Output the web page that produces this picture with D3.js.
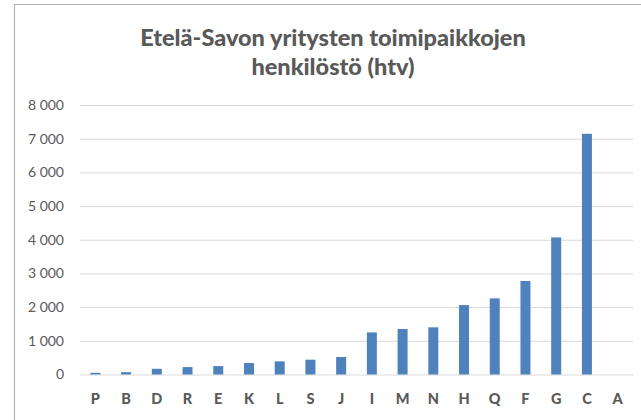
<!DOCTYPE html>
<html>
<head>
<meta charset="utf-8">
<script src="https://cdn.jsdelivr.net/npm/d3@7"></script>
<style>
  html, body { margin: 0; padding: 0; background: #fff; }
  svg { display: block; }
</style>
</head>
<body>
<svg id="chart" width="641" height="420"></svg>
<script>
const categories = ["P","B","D","R","E","K","L","S","J","I","M","N","H","Q","F","G","C","A"];
const values = [50, 70, 170, 220, 250, 340, 390, 440, 520, 1250, 1350, 1400, 2060, 2260, 2775, 4070, 7145, 0];
const yTicks = [0, 1000, 2000, 3000, 4000, 5000, 6000, 7000, 8000];
const titleLines = ["Etelä-Savon yritysten toimipaikkojen", "henkilöstö (htv)"];

const svg = d3.select("#chart");
const W = 641, H = 420;
const plot = { left: 80, right: 633, top: 105, bottom: 374.5 };
const textColor = "#595959";
const font = "Lato, 'Open Sans', sans-serif";

// frame
svg.append("path")
  .attr("d", `M14.5,${H} V4.5 H${W}`)
  .attr("fill", "none")
  .attr("stroke", "#b4b4b4")
  .attr("stroke-width", 1.2);

// title
const title = svg.append("text")
  .attr("text-anchor", "middle")
  .attr("font-family", font)
  .attr("font-weight", 900)
  .attr("font-size", 23.5)
  .attr("fill", textColor);
titleLines.forEach((t, i) => {
  title.append("tspan").attr("x", 333).attr("y", 46 + i * 28.5).text(t);
});

const x = d3.scaleBand().domain(categories).range([plot.left, plot.right]).paddingInner(0).paddingOuter(0);
const y = d3.scaleLinear().domain([0, 8000]).range([plot.bottom, plot.top]);

const fmt = d3.formatLocale({ decimal: ",", thousands: "\u00a0", grouping: [3], currency: ["", ""] }).format(",d");

// gridlines
const yAxis = d3.axisLeft(y).tickValues(yTicks).tickSize(-(plot.right - plot.left)).tickPadding(16).tickFormat(fmt);
const gy = svg.append("g").attr("transform", `translate(${plot.left},0)`).call(yAxis);
gy.select(".domain").remove();
gy.selectAll(".tick line").attr("stroke", "#d9d9d9").attr("stroke-width", 1);
gy.selectAll(".tick text")
  .attr("font-family", font)
  .attr("font-size", 14)
  .attr("fill", textColor);

// bars
const barW = 10;
svg.append("g").selectAll("rect")
  .data(categories.map((c, i) => ({ c, v: values[i] })))
  .join("rect")
  .attr("x", d => x(d.c) + (x.bandwidth() - barW) / 2)
  .attr("width", barW)
  .attr("y", d => y(d.v))
  .attr("height", d => y(0) - y(d.v))
  .attr("fill", "#4f81bd");

// x axis
const xAxis = d3.axisBottom(x).tickSize(0).tickPadding(19);
const gx = svg.append("g").attr("transform", `translate(0,${plot.bottom})`).call(xAxis);
gx.select(".domain").remove();
gx.selectAll(".tick text")
  .attr("font-family", font)
  .attr("font-size", 14.5)
  .attr("font-weight", 900)
  .attr("fill", textColor);
</script>
</body>
</html>
